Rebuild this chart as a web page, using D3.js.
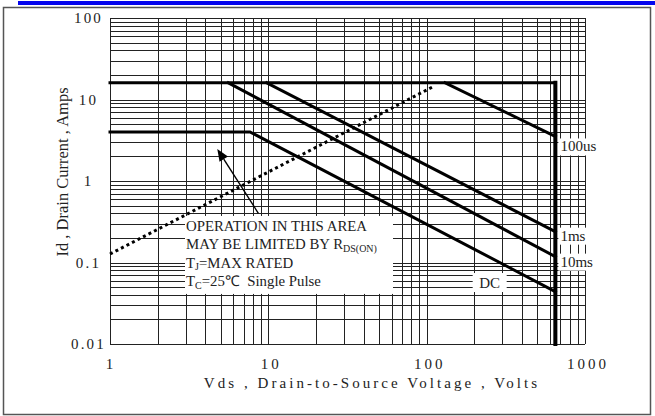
<!DOCTYPE html>
<html>
<head>
<meta charset="utf-8">
<script src="https://cdn.jsdelivr.net/npm/d3@7"></script>
<style>
  html, body { margin: 0; padding: 0; background: #fff; }
  svg { display: block; font-family: "Liberation Serif", "Times New Roman", serif; }
  text { white-space: pre; }
</style>
</head>
<body>
<svg id="chart" width="655" height="416"></svg>
<script>
// Safe operating area chart: Id vs Vds, log / log

// -----------------------------------------------------------------------------
// Data
// -----------------------------------------------------------------------------
const vdsTicks = [1, 10, 100, 1000];
const vdsTickLabels = ["1", "10", "100", "1000"];
const idTicks = [0.01, 0.1, 1, 10, 100];
const idTickLabels = ["0.01", "0.1", "1", "10", "100"];

// [Vds, Id] pairs
const limitLine = [[1, 16], [650, 16], [650, 0.01]];   // max current + max voltage
const dcLine = [[1, 4], [7.66, 4], [650, 0.0439]];
const pulse10ms = [[5.59, 16], [650, 0.118]];
const pulse1ms = [[9.77, 16], [650, 0.239]];
const pulse100us = [[130.7, 16], [650, 3.52]];
const rdsLimit = [[1, 0.127], [110, 14.4]];             // dotted RDS(on) line

const pulseNames = ["100us", "1ms", "10ms"];
const dcName = "DC";
const dcLabelAt = [250, 0.056];

const noteAt = [3.02, 0.244];          // first text line, left / baseline
const arrowTail = [8.65, 0.402];
const arrowTip = [4.76, 2.47];
const noteLines = [
  [{ t: "OPERATION IN THIS AREA" }],
  [{ t: "MAY BE LIMITED BY R" }, { t: "DS(ON)", sub: true }],
  [{ t: "T" }, { t: "J", sub: true }, { t: "=MAX RATED" }],
  [{ t: "T" }, { t: "C", sub: true }, { t: "=25℃  Single Pulse" }]
];

const xTitle = "Vds , Drain-to-Source Voltage , Volts";
const yTitle = "Id , Drain Current , Amps";

// -----------------------------------------------------------------------------
// Setup
// -----------------------------------------------------------------------------
const svg = d3.select("#chart");

const x = d3.scaleLog().domain([1, 1000]).range([110, 585]);
const y = d3.scaleLog().domain([0.01, 100]).range([344, 18]);
const px = v => Math.round(v) + 0.5;

// page decoration: blue bar + frame
svg.append("rect").attr("x", 18).attr("y", 1).attr("width", 637).attr("height", 4)
  .attr("fill", "#0505ee");
svg.append("rect").attr("x", 3.5).attr("y", 7.5).attr("width", 647).attr("height", 407)
  .attr("fill", "none").attr("stroke", "#555").attr("stroke-width", 1.5);

// -----------------------------------------------------------------------------
// Grid
// -----------------------------------------------------------------------------
const grid = svg.append("g").attr("stroke", "#222").attr("stroke-width", 1);

grid.selectAll("line.v")
  .data(x.ticks())
  .join("line")
  .attr("class", "v")
  .attr("x1", d => px(x(d))).attr("x2", d => px(x(d)))
  .attr("y1", y.range()[1]).attr("y2", y.range()[0]);

grid.selectAll("line.h")
  .data(y.ticks())
  .join("line")
  .attr("class", "h")
  .attr("y1", d => px(y(d))).attr("y2", d => px(y(d)))
  .attr("x1", x.range()[0]).attr("x2", x.range()[1]);

// tick labels
svg.append("g")
  .selectAll("text")
  .data(vdsTicks)
  .join("text")
  .attr("x", (d, i) => x(d) + (i ? 3 : 1))
  .attr("y", 369)
  .attr("text-anchor", "middle")
  .attr("font-size", 15)
  .attr("letter-spacing", 3)
  .attr("fill", "#222")
  .text((d, i) => vdsTickLabels[i]);

svg.append("g")
  .selectAll("text")
  .data(idTicks)
  .join("text")
  .attr("x", 88.5)
  .attr("y", d => y(d))
  .attr("dy", "0.35em")
  .attr("text-anchor", "middle")
  .attr("font-size", 15)
  .attr("letter-spacing", 2.2)
  .attr("fill", "#222")
  .text((d, i) => idTickLabels[i]);

// axis titles
svg.append("text")
  .attr("x", 372).attr("y", 388)
  .attr("text-anchor", "middle")
  .attr("font-size", 15)
  .attr("letter-spacing", 3.05)
  .attr("fill", "#222")
  .text(xTitle);

svg.append("text")
  .attr("transform", "translate(68,172) rotate(-90)")
  .attr("text-anchor", "middle")
  .attr("font-size", 16.5)
  .attr("fill", "#222")
  .text(yTitle);

// -----------------------------------------------------------------------------
// White backgrounds for the labels (hide grid under them)
// -----------------------------------------------------------------------------
const bg = svg.append("g").attr("fill", "#fff");
const nx = x(noteAt[0]), ny = y(noteAt[1]);
bg.append("rect").attr("x", nx - 1).attr("y", ny - 15).attr("width", 208).attr("height", 78);

const endPts = [pulse100us, pulse1ms, pulse10ms].map(s => s[s.length - 1]);
const labelDy = [15, 9, 10];
endPts.forEach((p, i) => {
  bg.append("rect")
    .attr("x", x(p[0]) + 3).attr("y", y(p[1]) + labelDy[i] - 13)
    .attr("width", 44).attr("height", 17);
});
bg.append("rect")
  .attr("x", x(dcLabelAt[0]) - 17).attr("y", y(dcLabelAt[1]) - 10)
  .attr("width", 34).attr("height", 19);

// -----------------------------------------------------------------------------
// Curves
// -----------------------------------------------------------------------------
const line = d3.line().x(d => x(d[0])).y(d => y(d[1]));
const curves = svg.append("g")
  .attr("fill", "none")
  .attr("stroke", "#000")
  .attr("stroke-linecap", "square");

curves.append("path").datum(limitLine).attr("d", line)
  .attr("stroke-width", 3).attr("stroke-linejoin", "miter");
// heavier vertical at max Vds
curves.append("path").datum(limitLine.slice(1)).attr("d", line).attr("stroke-width", 4);

[dcLine, pulse10ms, pulse1ms, pulse100us].forEach(s => {
  curves.append("path").datum(s).attr("d", line).attr("stroke-width", 3);
});

svg.append("path").datum(rdsLimit).attr("d", line)
  .attr("fill", "none").attr("stroke", "#000")
  .attr("stroke-width", 3).attr("stroke-dasharray", "3,3.2");

// arrow
const ax0 = x(arrowTail[0]), ay0 = y(arrowTail[1]);
const ax1 = x(arrowTip[0]), ay1 = y(arrowTip[1]);
const ang = Math.atan2(ay1 - ay0, ax1 - ax0);
const headLen = 12, headW = 5;
const bx = ax1 - headLen * Math.cos(ang), by = ay1 - headLen * Math.sin(ang);
svg.append("line")
  .attr("x1", ax0).attr("y1", ay0).attr("x2", bx).attr("y2", by)
  .attr("stroke", "#000").attr("stroke-width", 1.4);
svg.append("path")
  .attr("d", `M${ax1},${ay1}L${bx + headW * Math.sin(ang)},${by - headW * Math.cos(ang)}` +
    `L${bx - headW * Math.sin(ang)},${by + headW * Math.cos(ang)}Z`)
  .attr("fill", "#000");

// -----------------------------------------------------------------------------
// Text labels
// -----------------------------------------------------------------------------
endPts.forEach((p, i) => {
  svg.append("text")
    .attr("x", x(p[0]) + 5).attr("y", y(p[1]) + labelDy[i])
    .attr("font-size", 15).attr("fill", "#222")
    .text(pulseNames[i]);
});

svg.append("text")
  .attr("x", x(dcLabelAt[0])).attr("y", y(dcLabelAt[1]) + 5)
  .attr("text-anchor", "middle")
  .attr("font-size", 15).attr("fill", "#222")
  .text(dcName);

const note = svg.append("text")
  .attr("font-size", 14.8)
  .attr("fill", "#222");
noteLines.forEach((parts, i) => {
  const row = note.append("tspan").attr("x", nx).attr("y", ny + i * 18.4);
  parts.forEach(p => {
    if (p.sub) {
      row.append("tspan").attr("font-size", 10).attr("dy", 2.5).text(p.t);
    } else {
      const t = row.append("tspan").text(p.t);
      // undo previous subscript shift
      if (row.selectAll("tspan").size() > 1) t.attr("dy", -2.5);
    }
  });
});
</script>
</body>
</html>
